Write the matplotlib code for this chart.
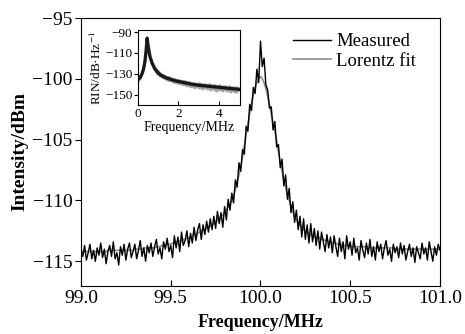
import numpy as np
import matplotlib
matplotlib.use("Agg")
import matplotlib.pyplot as plt

plt.rcParams['font.family'] = ['Liberation Serif', 'DejaVu Serif']
plt.rcParams['mathtext.fontset'] = 'stix'

# main spectrum, 99.00 .. 101.00 MHz in 0.01 MHz steps
freq = np.round(np.arange(99.0, 101.0001, 0.01), 2)

measured = [
    -114.0, -114.6, -113.7, -114.9, -114.3, -113.6, -114.8, -114.1, -115.0, -113.9,
    -114.5, -113.5, -114.7, -114.0, -115.2, -114.2, -113.7, -114.6, -113.4, -114.8,
    -114.3, -115.3, -113.8, -114.5, -113.6, -114.9, -114.0, -113.5, -114.7, -114.2,
    -113.6, -114.8, -114.1, -113.3, -114.6, -113.9, -115.0, -113.7, -114.3, -113.5,
    -114.6, -113.8, -113.2, -114.4, -113.9, -114.8, -113.4, -114.0, -113.1, -114.2,
    -113.7, -114.7, -112.9, -113.9, -113.0, -114.2, -112.6, -113.7, -113.3, -112.5,
    -113.8, -112.7, -113.5, -112.2, -113.3, -112.4, -111.9, -113.2, -112.0, -112.8,
    -111.7, -112.6, -111.5, -112.4, -111.3, -112.3, -110.9, -111.9, -111.0, -112.2,
    -110.5, -111.6, -109.9, -110.8, -109.4, -110.2, -108.3, -108.9, -106.9, -107.6,
    -105.8, -106.2, -103.9, -104.3, -102.1, -102.6, -100.7, -101.2, -99.2, -100.3,
    -96.9, -99.0, -98.3, -100.5, -100.9, -102.4, -102.3, -104.2, -103.5, -105.6,
    -105.4, -107.3, -106.6, -108.8, -107.9, -109.9, -109.0, -111.0, -110.1, -111.8,
    -110.8, -112.4, -111.3, -113.0, -111.5, -113.2, -112.0, -113.5, -111.9, -113.4,
    -112.3, -113.7, -112.5, -114.0, -112.6, -113.4, -114.2, -112.8, -113.9, -113.0,
    -114.3, -112.9, -113.8, -114.6, -113.1, -114.2, -113.4, -114.8, -112.9, -114.0,
    -113.4, -114.5, -113.1, -114.3, -113.9, -114.9, -113.3, -114.1, -114.7, -113.5,
    -114.4, -113.2, -114.6, -113.8, -114.9, -113.4, -114.2, -113.6, -114.8, -113.9,
    -113.3, -114.5, -114.0, -115.0, -113.6, -114.3, -113.8, -114.7, -113.5, -114.4,
    -113.7, -114.9, -114.2, -113.6, -114.6, -113.9, -115.1, -113.8, -114.3, -114.8,
    -113.5, -114.4, -113.9, -114.9, -113.4, -114.2, -115.0, -113.8, -114.5, -113.6,
    -114.1,
]

lorentz_fit = [
    -114.2, -114.2, -114.2, -114.2, -114.2, -114.2, -114.2, -114.2, -114.2, -114.2,
    -114.2, -114.2, -114.2, -114.2, -114.2, -114.1, -114.1, -114.1, -114.1, -114.1,
    -114.1, -114.1, -114.1, -114.1, -114.1, -114.1, -114.1, -114.1, -114.1, -114.1,
    -114.0, -114.0, -114.0, -114.0, -114.0, -113.9, -113.9, -113.9, -113.9, -113.9,
    -113.9, -113.9, -113.8, -113.8, -113.8, -113.7, -113.7, -113.7, -113.6, -113.6,
    -113.6, -113.5, -113.5, -113.4, -113.4, -113.3, -113.3, -113.2, -113.2, -113.1,
    -113.1, -113.0, -112.9, -112.8, -112.8, -112.7, -112.6, -112.5, -112.4, -112.4,
    -112.3, -112.2, -112.1, -112.0, -111.9, -111.8, -111.6, -111.5, -111.3, -111.2,
    -111.0, -110.8, -110.5, -110.3, -110.0, -109.6, -109.1, -108.5, -107.9, -107.2,
    -106.4, -105.5, -104.6, -103.7, -102.8, -102.0, -101.3, -100.7, -100.3, -100.0,
    -99.8, -100.0, -100.3, -100.8, -101.4, -102.1, -102.9, -103.6, -104.3, -105.1,
    -106.0, -106.8, -107.6, -108.3, -108.9, -109.5, -110.0, -110.5, -110.9, -111.3,
    -111.6, -111.8, -112.0, -112.2, -112.4, -112.5, -112.6, -112.7, -112.8, -112.9,
    -113.0, -113.0, -113.1, -113.1, -113.2, -113.2, -113.3, -113.3, -113.4, -113.4,
    -113.5, -113.5, -113.5, -113.6, -113.6, -113.6, -113.7, -113.7, -113.7, -113.7,
    -113.8, -113.8, -113.8, -113.8, -113.8, -113.8, -113.8, -113.8, -113.8, -113.8,
    -113.9, -113.9, -113.9, -113.9, -113.9, -113.9, -113.9, -113.9, -113.9, -113.9,
    -113.9, -113.9, -113.9, -113.9, -113.9, -114.0, -114.0, -114.0, -114.0, -114.0,
    -114.0, -114.0, -114.0, -114.0, -114.0, -114.0, -114.0, -114.0, -114.0, -114.0,
    -114.0, -114.0, -114.0, -114.0, -114.0, -114.0, -114.0, -114.0, -114.0, -114.0,
    -114.0,
]

# inset RIN, 0 .. 5 MHz in 0.05 MHz steps
rin_freq = np.round(np.arange(0.0, 5.0001, 0.05), 2)

rin_mean = [
    -134, -135, -134, -132, -130, -127, -123, -117, -108, -96,
    -103, -109, -114, -117, -120, -122, -124, -125.5, -127, -128,
    -129.5, -130, -131, -131.5, -132, -132.5, -133, -133.5, -134, -134.3,
    -134.6, -135, -135.3, -135.6, -135.9, -136.2, -136.5, -136.7, -137, -137.2,
    -137.4, -137.6, -137.8, -138, -138.2, -138.4, -138.6, -138.8, -139, -139.2,
    -139.4, -139.6, -139.8, -140, -140.2, -140.3, -140.5, -140.6, -140.7, -140.9,
    -141.0, -141.1, -141.2, -141.3, -141.4, -141.5, -141.6, -141.7, -141.8, -141.9,
    -142.0, -142.1, -142.2, -142.3, -142.4, -142.5, -142.6, -142.7, -142.8, -142.9,
    -143.0, -143.1, -143.2, -143.3, -143.4, -143.5, -143.6, -143.7, -143.8, -143.9,
    -144.0, -144.1, -144.2, -144.3, -144.4, -144.5, -144.6, -144.7, -144.8, -144.9,
    -145.0,
]

rin_raw = [
    -132, -137, -132, -133, -129, -128, -122, -118, -107, -95,
    -104, -108, -115, -116, -121, -120, -126, -124, -129, -126,
    -131, -128, -133, -130, -134, -131, -135, -132, -136, -133,
    -137, -133, -137, -134, -138, -135, -139, -135, -139, -136,
    -140, -136, -140, -137, -141, -137, -141, -137, -142, -138,
    -142, -138, -143, -139, -143, -139, -144, -139, -143, -140,
    -144, -139, -144, -140, -145, -140, -144, -140, -145, -141,
    -145, -140, -146, -141, -145, -141, -146, -141, -147, -142,
    -146, -141, -146, -142, -147, -142, -146, -142, -147, -143,
    -147, -142, -148, -143, -147, -143, -148, -143, -148, -143,
    -146,
]

fig = plt.figure(figsize=(4.65, 3.34), dpi=100)
ax = fig.add_axes([0.1742, 0.1449, 0.772, 0.801])

ax.plot(freq, lorentz_fit, color='0.55', lw=1.2, label='Lorentz fit', zorder=2)
ax.plot(freq, measured, color='black', lw=1.0, label='Measured', zorder=3)

ax.set_xlim(99.0, 101.0)
ax.set_ylim(-117, -95)
ax.set_xticks([99.0, 99.5, 100.0, 100.5, 101.0])
ax.set_xticklabels(['99.0', '99.5', '100.0', '100.5', '101.0'])
ax.set_yticks([-95, -100, -105, -110, -115])
ax.tick_params(axis='x', direction='in', length=4, labelsize=14, pad=3)
ax.tick_params(axis='y', direction='out', length=4, labelsize=14, pad=2)
ax.set_xlabel('Frequency/MHz', fontsize=13, fontweight='bold', labelpad=5)
ax.set_ylabel('Intensity/dBm', fontsize=14, fontweight='bold', labelpad=3)

h, l = ax.get_legend_handles_labels()
ax.legend(h[::-1], l[::-1], loc='upper right', frameon=False, fontsize=13.5,
          handlelength=2.0, handletextpad=0.3, labelspacing=0.12,
          borderaxespad=0.4, bbox_to_anchor=(0.975, 1.0))

# inset
ins = fig.add_axes([0.2968, 0.6856, 0.2194, 0.2246])
ins.plot(rin_freq, rin_raw, color='0.4', lw=1.6, alpha=0.6)
ins.plot(rin_freq, rin_mean, color='black', lw=2.4, alpha=0.85)
ins.set_xlim(0, 5.05)
ins.set_ylim(-160, -88)
ins.set_xticks([0, 2, 4])
ins.set_yticks([-90, -110, -130, -150])
ins.tick_params(axis='x', direction='in', length=3, labelsize=9.5, pad=2)
ins.tick_params(axis='y', direction='out', length=3, labelsize=9.5, pad=1)
ins.set_xlabel('Frequency/MHz', fontsize=10, labelpad=1)
ins.set_ylabel('RIN/dB·Hz$^{-1}$', fontsize=9.5, labelpad=1)

fig.savefig('out.png', dpi=100)
